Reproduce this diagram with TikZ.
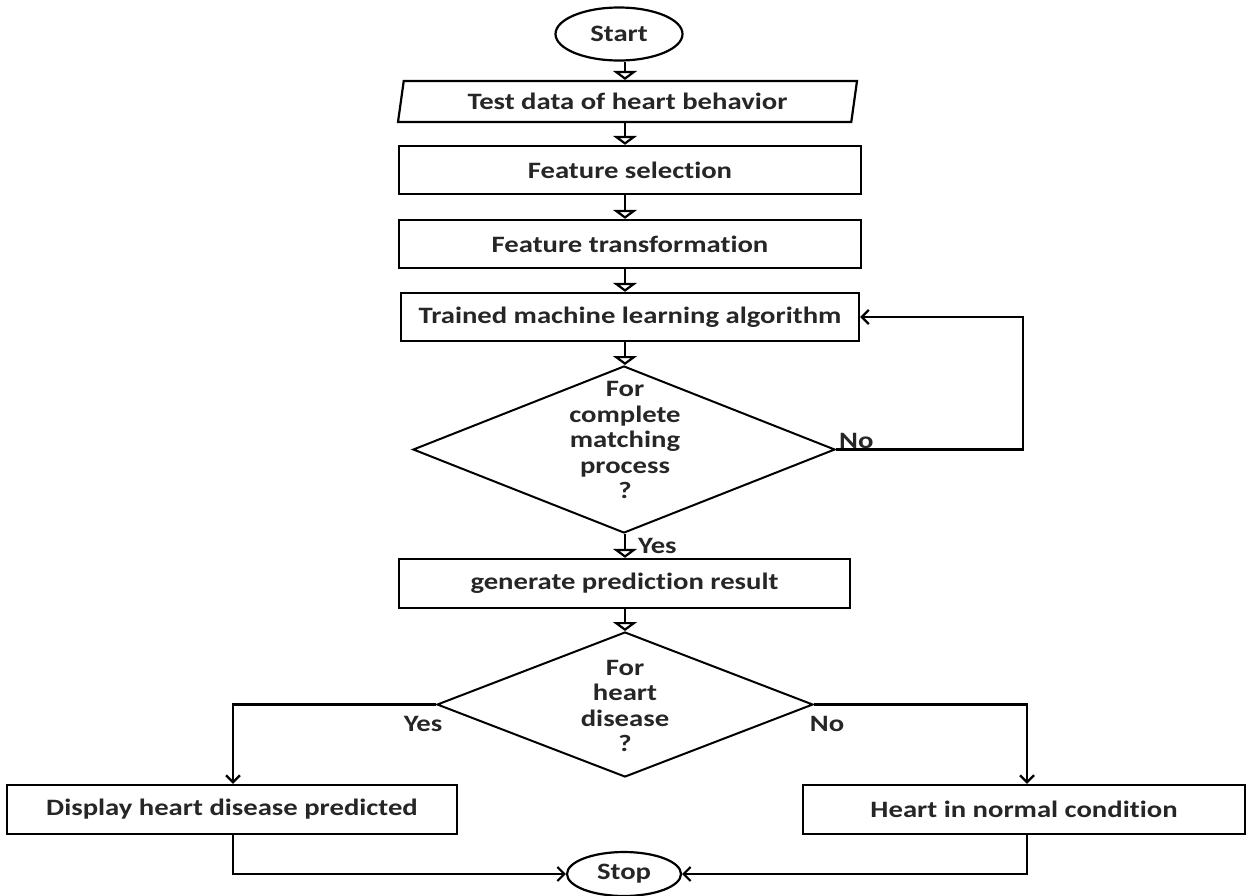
\documentclass[tikz,border=0pt]{standalone}
\usepackage{fontspec}
\setmainfont{Carlito}[FakeStretch=1.22, Ligatures=NoCommon]
\usetikzlibrary{shapes.geometric, arrows.meta}

\begin{document}
\begin{tikzpicture}[x=1pt, y=-1pt,
  every node/.style={font=\fontsize{23.5}{25.5}\selectfont\bfseries, text=black!85},
  box/.style={draw=black, line width=2.4pt, rectangle, minimum height=48pt, inner sep=0pt},
  term/.style={draw=black, line width=2.2pt, ellipse, inner sep=0pt},
  decision/.style={draw=black, line width=2pt, diamond, inner sep=0pt},
  flow/.style={line width=2.2pt, -{Triangle[open, width=24pt, length=9pt]}},
  link/.style={line width=2.2pt, -{Straight Barb[length=7pt, width=14pt]}},
  lbl/.style={inner sep=0pt}]

% canvas
\useasboundingbox (0,0) rectangle (1246,895);
\fill[white] (0,0) rectangle (1246,895);

% main vertical axis of the flow
\coordinate (axis) at (625,0);

% nodes
\node[term, minimum width=127pt, minimum height=53pt] (start) at (619,34) {Start};
\node[trapezium, trapezium left angle=71, trapezium right angle=109,
      trapezium stretches body, draw=black, line width=2.2pt,
      minimum width=459pt, minimum height=41pt, inner sep=0pt]
      (data) at (627.5,101.5) {Test data of heart behavior};
\node[box, minimum width=462pt] (fsel) at (630,170) {Feature selection};
\node[box, minimum width=462pt] (ftr) at (630,244) {Feature transformation};
\node[box, minimum width=458pt] (tml) at (630,317) {Trained machine learning algorithm};
\node[decision, minimum width=422pt, minimum height=167pt] (dec1) at (624,449.5) {};
\node[align=center] (dec1text) at (625,440) {For\\complete\\matching\\process\\?};
\node[box, minimum width=451pt, minimum height=49pt] (gen) at (624.5,583.5) {generate prediction result};
\node[decision, minimum width=376pt, minimum height=145pt] (dec2) at (625,704.5) {};
\node[align=center] (dec2text) at (625,706) {For\\heart\\disease\\?};
\node[box, minimum width=450pt, minimum height=49pt] (dpos) at (232,809.5) {Display heart disease predicted};
\node[box, minimum width=442pt, minimum height=49pt] (dneg) at (1024,809.5) {Heart in normal condition};
\node[term, minimum width=114pt, minimum height=44pt] (stop) at (624,874) {Stop};

% main sequence
\draw[flow] (start.south -| axis) -- (data.north -| axis);
\draw[flow] (data.south -| axis) -- (fsel.north -| axis);
\draw[flow] (fsel.south -| axis) -- (ftr.north -| axis);
\draw[flow] (ftr.south -| axis) -- (tml.north -| axis);
\draw[flow] (tml.south -| axis) -- (dec1.north -| axis);
\draw[flow] (dec1.south -| axis) -- (gen.north -| axis);
\node[lbl, anchor=west] (yes1) at (638,546) {Yes};

% loop back while matching is incomplete
\coordinate (fbk) at (1023,449.5);
\draw[link] (dec1.east) -- (fbk) -- (fbk |- tml.east) -- (tml.east);
\node[lbl, anchor=west] (no1) at (839,441) {No};

% prediction and outcome branches
\draw[flow] (gen.south -| axis) -- (dec2.north -| axis);
\coordinate (lturn) at (233,704.5);
\coordinate (rturn) at (1027,704.5);
\draw[link] (dec2.west) -- (lturn) -- (lturn |- dpos.north);
\draw[link] (dec2.east) -- (rturn) -- (rturn |- dneg.north);
\node[lbl] (yes2) at (423,724) {Yes};
\node[lbl] (no2) at (827,724) {No};

% both outcomes end at Stop
\draw[link] (lturn |- dpos.south) -- (lturn |- stop.west) -- (stop.west);
\draw[link] (rturn |- dneg.south) -- (rturn |- stop.east) -- (stop.east);
\end{tikzpicture}
\end{document}
